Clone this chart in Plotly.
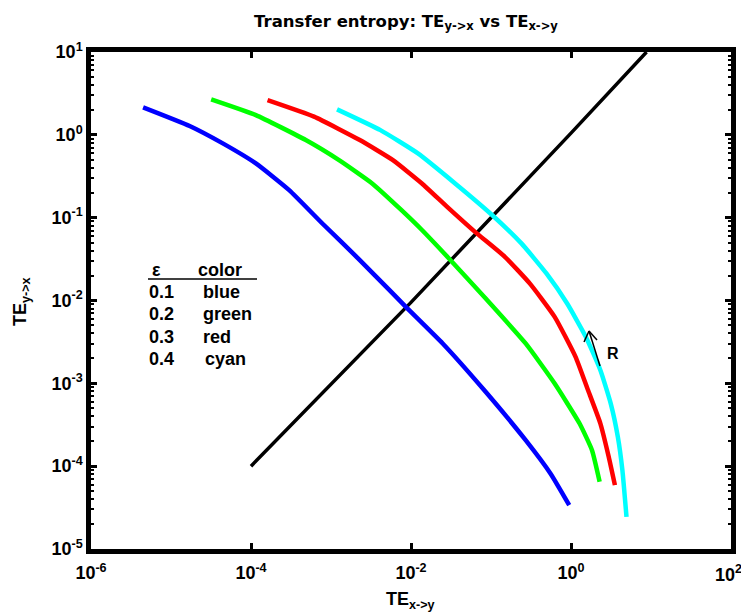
import plotly.graph_objects as go

# ---- data ----
blue_x = [4.48e-6, 1.71e-5, 4.44e-5, 1.15e-4, 3.0e-4, 7.8e-4, 2.29e-3, 5.27e-3, 8.5e-3, 2.49e-2, 8.2e-2, 0.271, 0.556, 0.95]
blue_y = [2.15, 1.28, 0.789, 0.452, 0.215, 8.5e-2, 3.08e-2, 1.36e-2, 8.5e-3, 3.03e-3, 8.3e-4, 2.06e-4, 8.1e-5, 3.38e-5]

green_x = [3.18e-5, 1.15e-4, 4.84e-4, 1.26e-3, 3.27e-3, 7.55e-3, 1.37e-2, 2.98e-2, 8.2e-2, 0.271, 0.625, 1.28, 1.83, 2.28]
green_y = [2.68, 1.73, 0.865, 0.495, 0.259, 0.124, 7.1e-2, 3.22e-2, 1.11e-2, 3.03e-3, 9.95e-4, 3.27e-4, 1.56e-4, 6.5e-5]

red_x = [1.61e-4, 6.14e-4, 2.29e-3, 5.94e-3, 1.37e-2, 2.81e-2, 6.47e-2, 0.149, 0.305, 0.625, 1.14, 1.63, 2.33, 2.96, 3.54]
red_y = [2.63, 1.66, 0.865, 0.495, 0.259, 0.136, 6.6e-2, 3.37e-2, 1.61e-2, 6.35e-3, 2.09e-3, 8.3e-4, 3.27e-4, 1.30e-4, 5.9e-5]

cyan_x = [1.19e-3, 4.15e-3, 1.22e-2, 3.56e-2, 0.104, 0.240, 0.493, 0.895, 1.53, 2.33, 3.14, 3.85, 4.39, 4.94]
cyan_y = [2.03, 1.14, 0.597, 0.259, 0.107, 4.89e-2, 2.12e-2, 9.2e-3, 3.65e-3, 1.44e-3, 5.7e-4, 2.26e-4, 8.95e-5, 2.44e-5]

diag_x = [1e-4, 1e-2, 1.0, 8.8]
diag_y = [1e-4, 0.95e-2, 1.05, 10.0]

x_tick_vals = [1e-6, 1e-4, 1e-2, 1e0, 1e2]
x_tick_text = ["10<sup>-6</sup>", "10<sup>-4</sup>", "10<sup>-2</sup>", "10<sup>0</sup>", "10<sup>2</sup>"]
y_tick_vals = [1e-5, 1e-4, 1e-3, 1e-2, 1e-1, 1e0, 1e1]
y_tick_text = ["10<sup>-5</sup>", "10<sup>-4</sup>", "10<sup>-3</sup>", "10<sup>-2</sup>",
               "10<sup>-1</sup>", "10<sup>0</sup>", "10<sup>1</sup>"]

legend_eps = ["0.1", "0.2", "0.3", "0.4"]
legend_col = ["blue", "green", "red", "cyan"]

series = [
    (blue_x, blue_y, "#0000ff"),
    (green_x, green_y, "#00ff00"),
    (red_x, red_y, "#ff0000"),
    (cyan_x, cyan_y, "#00ffff"),
]

fig = go.Figure()
fig.add_trace(go.Scatter(x=diag_x, y=diag_y, mode="lines",
                         line=dict(color="black", width=3.5), showlegend=False))
for xs, ys, c in series:
    fig.add_trace(go.Scatter(x=xs, y=ys, mode="lines",
                             line=dict(color=c, width=4.5, shape="spline", smoothing=0.45),
                             showlegend=False))

FONT = "Liberation Sans, Arial, sans-serif"

y_minor = [m * 10.0 ** e for e in range(-5, 1) for m in range(2, 10)]

# the last x label sits at the page edge; it is drawn as an annotation below
fig.update_xaxes(type="log", range=[-6, 2], tickmode="array", automargin=False,
                 tickvals=x_tick_vals,
                 ticktext=[f"<b>{t}</b>" for t in x_tick_text[:-1]] + [""],
                 showline=True, linecolor="black", linewidth=4.5, mirror="ticks",
                 ticks="inside", ticklen=6, tickwidth=3, tickcolor="black",
                 ticklabelstandoff=4,
                 showgrid=False, zeroline=False,
                 tickfont=dict(family=FONT, size=18, color="black"))
fig.update_yaxes(type="log", range=[-5, 1], tickmode="array", automargin=False,
                 tickvals=y_tick_vals, ticktext=[f"<b>{t}</b>" for t in y_tick_text],
                 showline=True, linecolor="black", linewidth=4.5, mirror="ticks",
                 ticks="inside", ticklen=6, tickwidth=3, tickcolor="black",
                 minor=dict(tickmode="array", tickvals=y_minor, ticks="inside",
                            ticklen=3, tickwidth=2, tickcolor="black", showgrid=False),
                 showgrid=False, zeroline=False,
                 tickfont=dict(family=FONT, size=18, color="black"))

# plot area in pixels: x 91..731, y 52..549
def px(x):
    return (x - 91) / 640.0

def py(y):
    return (549 - y) / 497.0

ann = []
ann.append(dict(x=px(150), y=py(270), text="<b>ε</b>", xanchor="left", yanchor="middle"))
ann.append(dict(x=px(196), y=py(270), text="<b>color</b>", xanchor="left", yanchor="middle"))
rows_y = [292, 314, 337, 359]
for i, (e, c) in enumerate(zip(legend_eps, legend_col)):
    ann.append(dict(x=px(147), y=py(rows_y[i]), text=f"<b>{e}</b>", xanchor="left", yanchor="middle"))
    xoff = 201 if c != "cyan" else 203
    ann.append(dict(x=px(xoff), y=py(rows_y[i]), text=f"<b>{c}</b>", xanchor="left", yanchor="middle"))
for a in ann:
    a.update(xref="paper", yref="paper", showarrow=False,
             font=dict(family=FONT, size=18, color="black"))
ann.append(dict(x=px(605), y=py(353), xref="paper", yref="paper", text="<b>R</b>",
                showarrow=False, xanchor="left", yanchor="middle",
                font=dict(family=FONT, size=16, color="black")))
# last x tick label (at page edge)
ann.append(dict(x=1.0, xref="paper", y=py(573), yref="paper",
                text=f"<b>{x_tick_text[-1]}</b>", showarrow=False,
                xanchor="left", xshift=-18, yanchor="middle",
                font=dict(family=FONT, size=18, color="black")))
# axis titles
ann.append(dict(x=px(410), y=py(600), xref="paper", yref="paper", text="<b>TE<sub>x->y</sub></b>",
                showarrow=False, xanchor="center", yanchor="middle",
                font=dict(family=FONT, size=18, color="black")))
ann.append(dict(x=px(21), y=py(302), xref="paper", yref="paper", text="<b>TE<sub>y->x</sub></b>",
                showarrow=False, xanchor="center", yanchor="middle", textangle=-90,
                font=dict(family=FONT, size=18, color="black")))

shapes = [
    dict(type="line", xref="paper", yref="paper", x0=px(148), x1=px(257), y0=py(279), y1=py(279),
         line=dict(color="black", width=1.5)),
    dict(type="line", xref="paper", yref="paper", x0=px(600), x1=px(589), y0=py(366), y1=py(331),
         line=dict(color="black", width=1.5)),
    dict(type="line", xref="paper", yref="paper", x0=px(589), x1=px(584), y0=py(331), y1=py(342),
         line=dict(color="black", width=1.5)),
    dict(type="line", xref="paper", yref="paper", x0=px(589), x1=px(597), y0=py(331), y1=py(340),
         line=dict(color="black", width=1.5)),
]

fig.update_layout(
    width=741, height=612,
    margin=dict(l=91, r=10, t=52, b=63),
    plot_bgcolor="white", paper_bgcolor="white",
    title=dict(text="<b>Transfer entropy: TE<sub>y->x</sub> vs TE<sub>x->y</sub></b>",
               x=406 / 741, xanchor="center", y=1 - 21 / 612, yanchor="middle",
               font=dict(family="DejaVu Sans, Verdana, sans-serif", size=16.5, color="black")),
    annotations=ann, shapes=shapes,
)

fig.write_html("out.html")
